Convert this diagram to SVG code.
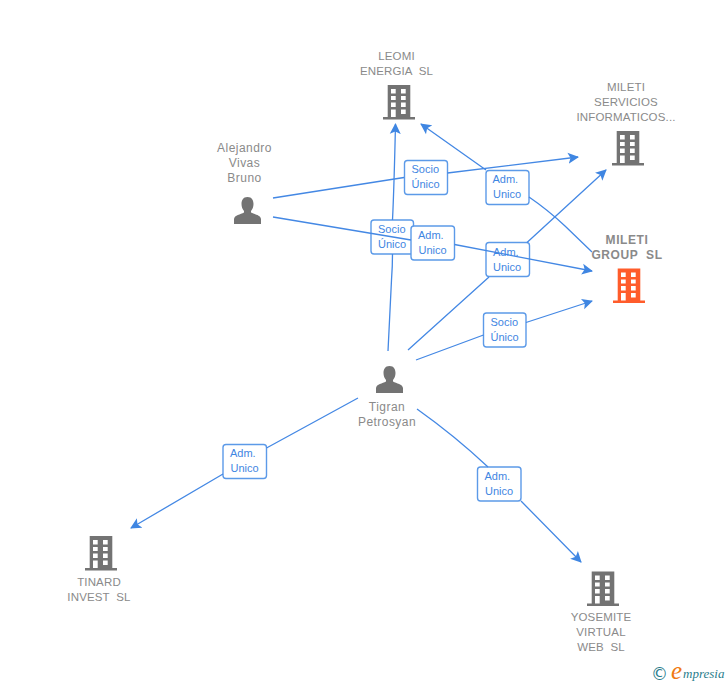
<svg xmlns="http://www.w3.org/2000/svg" xmlns:xlink="http://www.w3.org/1999/xlink" width="728" height="685" viewBox="0 0 728 685">
<style>
text{font-family:"Liberation Sans",Arial,sans-serif;white-space:pre}
.n{font-size:12px;fill:#8a8a8a;text-anchor:middle;letter-spacing:.45px}
.u{font-size:11.5px;fill:#8a8a8a;text-anchor:middle;letter-spacing:.15px}
.b{font-size:12px;fill:#8a8a8a;text-anchor:middle;letter-spacing:.6px;font-weight:700}
.l{font-size:11px;fill:#3f86e2}
.box{fill:#fff;stroke:#5c9ae8;stroke-width:1.4}
.e{fill:none;stroke:#4488e4;stroke-width:1.3}
</style>
<defs>
<marker id="a" markerUnits="userSpaceOnUse" markerWidth="13" markerHeight="13" refX="10" refY="5.500" orient="auto" viewBox="0 0 13 11"><path d="M0 0L11 5.500L0 11L2.500 5.500Z" fill="#3f86e2"/></marker>
<path id="bld" fill-rule="evenodd" d="M-11.300 0H11.300V32H16V34.500H-16V32H-11.300ZM-8 4V8.500H-3.300V4ZM2 4V8.500H6.700V4ZM-8 11V15H-3.300V11ZM2 11V15H6.700V11ZM-8 17.500V22H-3.300V17.500ZM2 17.500V22H6.700V17.500ZM-8 24.500V32H-3.300V24.500ZM2 24.500V29H6.700V24.500Z"/>
<path id="per" fill="#737373" d="M0 0C4.500 0 6 3.500 6 7C6 10 5 12 3.500 14V15.500C7 17.500 13 18 13.500 22V27H-13.500V22C-13 18 -7 17.500 -3.500 15.500V14C-5 12 -6 10 -6 7C-6 3.500 -4.500 0 0 0Z"/>
</defs>
<g id="labels">
<g><rect class="box" x="404.500" y="160.500" width="43" height="34" rx="3"/><text class="l" x="411.500" y="173">Socio</text><text class="l" x="411.500" y="188">Único</text></g>
<g><rect class="box" x="486" y="170.500" width="43" height="34" rx="3"/><text class="l" x="492.500" y="183">Adm.</text><text class="l" x="493" y="198">Unico</text></g>
<g><rect class="box" x="371" y="220" width="42.500" height="34" rx="3"/><text class="l" x="378" y="233">Socio</text><text class="l" x="378" y="248">Único</text></g>
<g><rect class="box" x="411" y="226" width="43.500" height="34" rx="3"/><text class="l" x="418" y="239">Adm.</text><text class="l" x="418.500" y="254">Unico</text></g>
<g><rect class="box" x="486" y="242.500" width="43.500" height="34" rx="3"/><text class="l" x="493" y="256">Adm.</text><text class="l" x="493" y="271">Unico</text></g>
<g><rect class="box" x="483.500" y="313" width="42.500" height="34" rx="3"/><text class="l" x="490.500" y="326">Socio</text><text class="l" x="490.500" y="341">Único</text></g>
<g><rect class="box" x="223" y="444.500" width="43.500" height="34" rx="3"/><text class="l" x="230" y="457">Adm.</text><text class="l" x="230.500" y="472">Unico</text></g>
<g><rect class="box" x="477.500" y="467" width="43.500" height="34" rx="3"/><text class="l" x="484.500" y="480">Adm.</text><text class="l" x="485" y="495">Unico</text></g>
</g>
<g id="connectors">
<path class="e" marker-end="url(#a)" d="M273 198L404 177.500M447.500 173L578 157"/>
<path class="e" marker-end="url(#a)" d="M273 217L411 240M454.500 244.500L592 271"/>
<path class="e" marker-end="url(#a)" d="M388 351L391.500 280Q392.500 266 392.500 254M392.500 220Q394 190 395.500 124"/>
<path class="e" marker-end="url(#a)" d="M408 350L489 277M527 242.500L606 170"/>
<path class="e" marker-end="url(#a)" d="M592 252L565 226Q548 210 529 197M486 170L421 124"/>
<path class="e" marker-end="url(#a)" d="M416 360L483.500 335M526 322.500L592 301"/>
<path class="e" marker-end="url(#a)" d="M358 398L266.500 448M223 474L131 528"/>
<path class="e" marker-end="url(#a)" d="M417 409Q455 436 488 467M521 501L581 562"/>
</g>
<g id="leomi"><use href="#bld" x="399" y="85" fill="#737373"/><text class="u" x="396.500" y="60">LEOMI</text><text class="u" x="396.500" y="75">ENERGIA  SL</text></g>
<g id="mileti-servicios"><use href="#bld" x="628" y="131" fill="#737373"/><text class="u" x="626" y="91">MILETI</text><text class="u" x="626" y="106">SERVICIOS</text><text class="u" x="626" y="121">INFORMATICOS...</text></g>
<g id="mileti-group"><use href="#bld" x="629" y="268.500" fill="#ff5c2b"/><text class="b" x="627" y="244">MILETI</text><text class="b" x="627" y="259">GROUP  SL</text></g>
<g id="alejandro"><use href="#per" x="247.500" y="197"/><text class="n" x="244.500" y="152">Alejandro</text><text class="n" x="244.500" y="167">Vivas</text><text class="n" x="244.500" y="182">Bruno</text></g>
<g id="tigran"><use href="#per" x="389.500" y="366"/><text class="n" x="387" y="411">Tigran</text><text class="n" x="387" y="426">Petrosyan</text></g>
<g id="tinard"><use href="#bld" x="101" y="536" fill="#737373"/><text class="u" x="99" y="586">TINARD</text><text class="u" x="99" y="601">INVEST  SL</text></g>
<g id="yosemite"><use href="#bld" x="603" y="571.500" fill="#737373"/><text class="u" x="601" y="621">YOSEMITE</text><text class="u" x="601" y="636">VIRTUAL</text><text class="u" x="601" y="651">WEB  SL</text></g>
<g id="logo"><text x="651" y="680" font-size="17" fill="#2a7d8c" style="font-family:'DejaVu Sans',sans-serif">©</text><text x="671" y="679" font-size="25" fill="#f07a12" font-style="italic" style="font-family:'Liberation Serif',serif">e</text><text x="683" y="678" font-size="13" fill="#2a7d8c" font-style="italic" style="font-family:'Liberation Serif',serif">mpresia</text></g>
</svg>
